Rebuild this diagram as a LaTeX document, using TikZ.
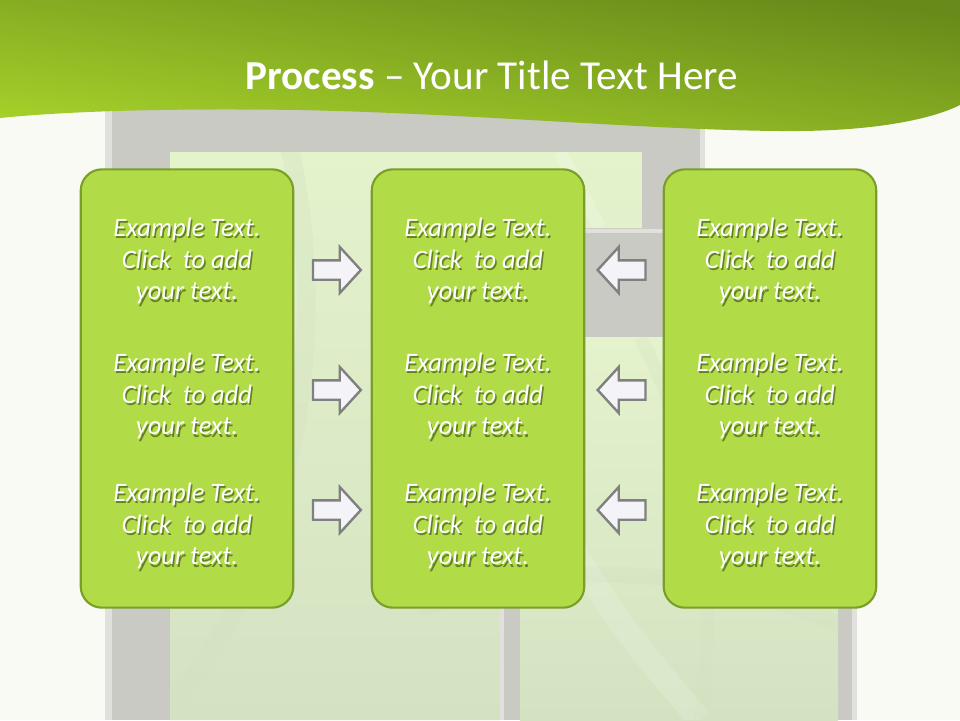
\documentclass[tikz,border=0pt]{standalone}
\usepackage{fontspec}
\setmainfont{Carlito}
\usepackage{tikz}
\usetikzlibrary{shapes.arrows,positioning}
\definecolor{pagebg}{RGB}{249,250,244}
\definecolor{hdark}{RGB}{104,138,26}
\definecolor{hlight}{RGB}{164,208,42}
\definecolor{framegrey}{RGB}{201,202,196}
\definecolor{frameedge}{RGB}{224,225,221}
\definecolor{panelight}{RGB}{228,243,204}
\definecolor{panedark}{RGB}{212,226,194}
\definecolor{boxfill}{RGB}{177,220,72}
\definecolor{boxedge}{RGB}{122,158,40}
\definecolor{arrowfill}{RGB}{244,244,248}
\definecolor{arrowedge}{RGB}{128,128,128}
\definecolor{txtshade}{RGB}{60,78,18}
\newcommand{\clicktext}{Example Text.\\Click\ \ to add\\your text.}

\begin{document}
\begin{tikzpicture}[x=0.02646cm,y=-0.02646cm,
  pbox/.style={draw=boxedge,line width=1.6pt,fill=boxfill,rounded corners=16pt,
               minimum width=160pt,minimum height=330pt},
  ptext/.style={text=white,align=center,font=\fontsize{20}{24}\selectfont\itshape},
  pshadow/.style={ptext,text=txtshade,opacity=0.65},
  parrow/.style={single arrow,draw=arrowedge,fill=arrowfill,line width=1.8pt,
                 inner xsep=0pt,inner ysep=6.4pt,minimum height=36pt,
                 single arrow head extend=10pt,single arrow tip angle=95}]
  \useasboundingbox (0,0) rectangle (960,720);
  \fill[pagebg] (0,0) rectangle (960,720);

  % window in the background
  \fill[framegrey] (105,100) rectangle (705,720);
  \fill[framegrey] (705,232) rectangle (857,720);
  \fill[frameedge] (105,100) rectangle (112,720);
  \fill[frameedge] (700,100) rectangle (705,232);
  \fill[frameedge] (852,232) rectangle (857,720);
  \fill[frameedge] (500,229) rectangle (857,233);
  \shade[top color=panelight,bottom color=panedark]
    (170,152) -- (642,152) -- (642,228) -- (500,228) -- (500,720) -- (170,720) -- cycle;
  \shade[top color=panelight,bottom color=panedark] (520,337) rectangle (838,720);
  \fill[frameedge] (500,337) rectangle (504,720);
  \begin{scope}
    \clip (170,152) -- (642,152) -- (642,228) -- (500,228) -- (500,720) -- (170,720) -- cycle
          (520,337) rectangle (838,720);
    \draw[panedark,line width=14pt,opacity=0.35] (290,150) .. controls (330,330) and (300,560) .. (160,720);
    \draw[white,line width=10pt,opacity=0.2] (560,152) -- (600,228);
    \draw[panedark,line width=12pt,opacity=0.4] (420,610) .. controls (540,560) and (700,560) .. (850,630);
    \draw[white,line width=18pt,opacity=0.15] (520,420) .. controls (560,560) and (640,650) .. (700,720);
    \draw[panedark,line width=10pt,opacity=0.3] (640,337) .. controls (700,450) and (720,600) .. (700,720);
  \end{scope}

  % header
  \shade[top color=hdark,bottom color=hlight,shading angle=-8]
    (0,0) -- (960,0) -- (960,105)
    .. controls (930,120) and (870,132) .. (780,131)
    .. controls (650,130) and (480,114) .. (300,110)
    .. controls (150,108) and (60,112) .. (0,118) -- cycle;
  \node[text=white,font=\fontsize{31}{37}\selectfont] (title) at (492,75)
    {\textbf{Process} -- Your Title Text Here};

  % boxes
  \node[pbox] (lbox) at (187,388.5) {};
  \node[pbox] (mbox) at (478,388.5) {};
  \node[pbox] (rbox) at (770,388.5) {};

  \foreach \bx/\nm in {187/l,478/m,770/r}{
    \foreach \ty/\k in {261/1,396/2,526/3}{
      \node[pshadow] at (\bx+1.5,\ty+2.5) {\clicktext};
      \node[ptext] (\nm\k) at (\bx,\ty) {\clicktext};
    }
  }

  % arrows
  \node[parrow] (ra1) at (332.5,270) {};
  \node[parrow] (ra2) at (332.5,390) {};
  \node[parrow] (ra3) at (332.5,510) {};
  \node[parrow,shape border rotate=180] (la1) at (626,270) {};
  \node[parrow,shape border rotate=180] (la2) at (626,390) {};
  \node[parrow,shape border rotate=180] (la3) at (626,510) {};
\end{tikzpicture}
\end{document}
